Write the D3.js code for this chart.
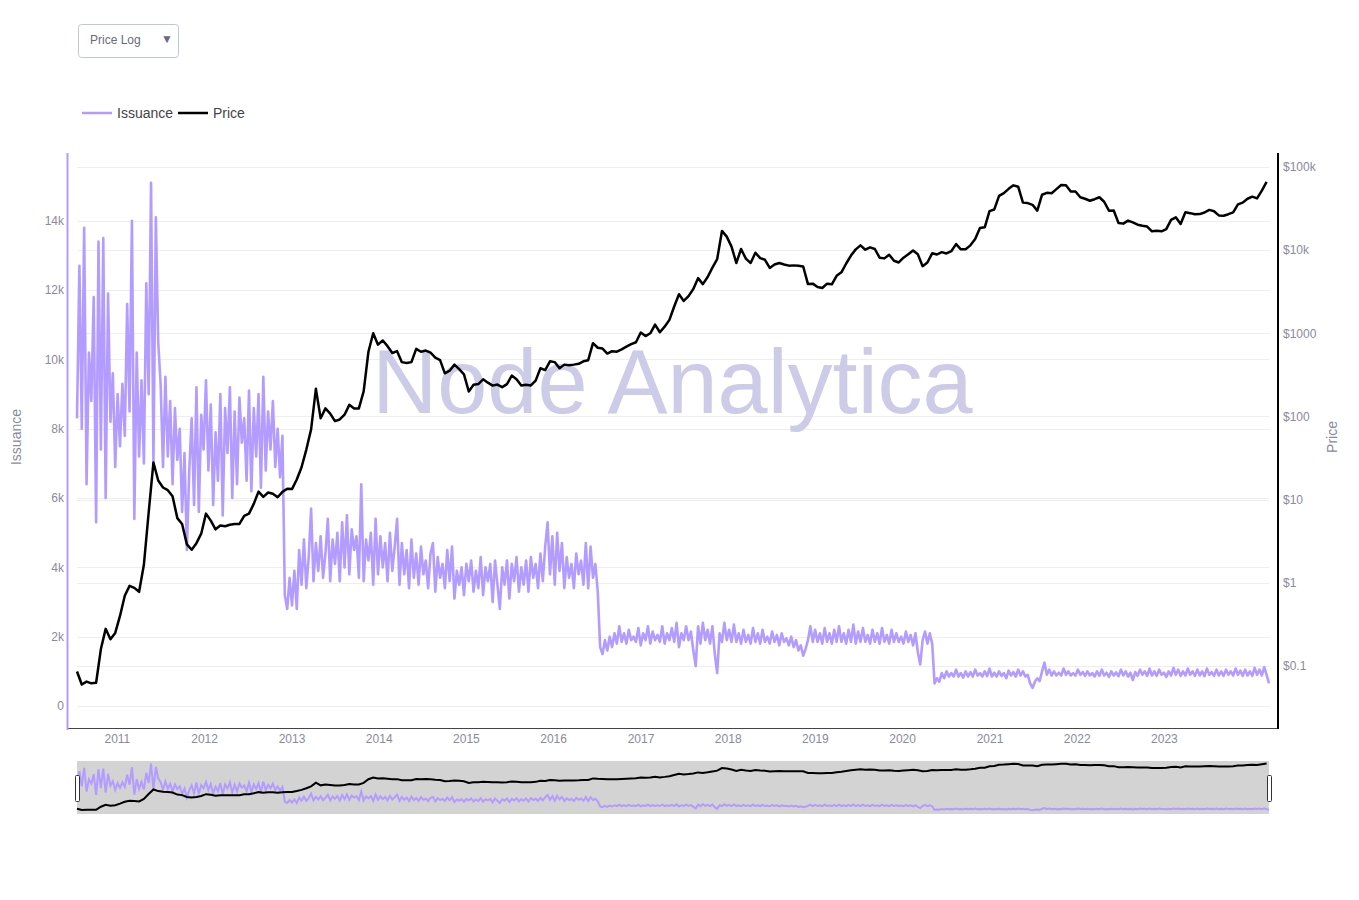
<!DOCTYPE html>
<html>
<head>
<meta charset="utf-8">
<script src="https://cdn.jsdelivr.net/npm/d3@7"></script>
<title>Issuance vs Price</title>
<style>
body { margin: 0; background: #fff; }
</style>
</head>
<body>
<script>

// daily BTC issuance, sampled every 10 days from 2010-07-18 (one array per halving epoch)
var startDate = "2010-07-18";
var issuanceStep = 10;
var priceStep = 20;

var issuanceEpoch1 = [
  8300, 12700, 8000, 13800, 6400, 10200, 8800, 11800, 5300, 13400,
  7400, 13500, 6000, 11900, 8200, 9600, 6900, 9000, 7500, 9300,
  7800, 11600, 8500, 14000, 5400, 10200, 7200, 9400, 7000, 12200,
  9000, 15100, 7000, 14100, 10500, 9300, 6900, 9500, 7200, 8800,
  6400, 8600, 7100, 8000, 5600, 7300, 4500, 6800, 8300, 5800,
  9200, 5600, 8400, 7400, 9400, 6800, 8700, 5800, 7900, 6500,
  9000, 5500, 8600, 7300, 9200, 6000, 8500, 6400, 8900, 7600,
  8300, 6500, 9100, 6200, 8600, 7200, 9000, 6300, 9500, 6800,
  8500, 7400, 8800, 6900, 8000, 6600, 7800
];
var issuanceEpoch2 = [
  3200, 2800, 3700, 2900, 3900, 2800, 4500, 3500, 4800, 3400,
  4300, 5700, 3600, 4700, 3900, 4900, 3700, 4400, 5400, 3600,
  4800, 4100, 5000, 3600, 5300, 4000, 5500, 3800, 5100, 4500,
  4900, 3700, 6400, 3600, 4800, 4200, 5000, 3500, 5400, 3800,
  4900, 4000, 4700, 3600, 5000, 3900, 4600, 5400, 3500, 4700,
  3800, 4500, 3400, 4800, 3700, 4400, 3500, 4600, 3800, 4200,
  3400, 4400, 4700, 3300, 4300, 3700, 4100, 3400, 4500, 3600,
  4600, 3100, 3900, 3500, 4000, 3200, 4100, 3600, 4200, 3300,
  3900, 3400, 4300, 3200, 4000, 3600, 4100, 3000, 4200, 3500,
  2800, 4000, 3500, 4200, 3100, 4100, 3600, 4300, 3300, 4000,
  3500, 4200, 3300, 4300, 3700, 4100, 3400, 4400, 3600, 4600,
  5300, 3800, 4900, 3500, 5000, 3900, 4700, 3400, 4300, 3700,
  4100, 3400, 4400, 3800, 4200, 3500, 4700, 3400, 4600, 3700,
  4100, 3300
];
var issuanceEpoch3 = [
  1700, 1500, 1900, 1600, 2000, 1700, 2100, 1800, 2300, 1850,
  2100, 1800, 2200, 1900, 2000, 1850, 2250, 1750, 2100, 1900,
  2300, 1800, 2150, 1900, 2050, 1850, 2300, 1800, 2100, 1900,
  2250, 1850, 2400, 1700, 2100, 1900, 2300, 1900, 2150, 1600,
  1150, 2300, 1800, 2400, 1900, 2200, 1800, 2300, 1500, 950,
  2100, 1850, 2400, 1900, 2200, 1850, 2350, 1850, 2100, 1800,
  2200, 1850, 2050, 1800, 2250, 1850, 2100, 1800, 2200, 1850,
  2000, 1800, 2150, 1850, 2050, 1750, 2100, 1850, 1950, 1750,
  2000, 1700, 1900, 1600, 1750, 1450, 1650, 1900, 2300, 1850,
  2200, 1850, 2100, 1800, 2250, 1850, 2100, 1800, 2200, 1850,
  2300, 1850, 2100, 1800, 2200, 1850, 2350, 1800, 2150, 1850,
  2250, 1850, 2050, 1800, 2200, 1850, 2100, 1800, 2250, 1850,
  2050, 1800, 2200, 1850, 2100, 1850, 2000, 1800, 2150, 1850,
  2050, 1750, 2100, 1550, 1200, 1900, 2150, 1800, 2100, 1800
];
var issuanceEpoch4 = [
  650, 800, 700, 950, 800, 1000, 850, 950, 850, 1050,
  850, 950, 820, 1000, 850, 980, 850, 1050, 880, 950,
  850, 1000, 860, 1080, 850, 960, 850, 1000, 870, 950,
  800, 1020, 880, 980, 850, 1050, 880, 1000, 850, 900,
  650, 520, 700, 800, 720, 1000, 1250, 900, 1050, 880,
  1000, 880, 960, 880, 1080, 900, 1000, 880, 950, 880,
  1050, 900, 980, 870, 1000, 880, 950, 850, 1000, 870,
  1050, 880, 960, 840, 1000, 880, 970, 860, 1050, 880,
  1000, 850, 960, 750, 980, 870, 1050, 900, 1000, 870,
  1080, 880, 1000, 870, 1050, 900, 960, 840, 1000, 880,
  1100, 900, 1050, 870, 1000, 880, 1080, 900, 1000, 870,
  1050, 880, 1000, 860, 1080, 900, 980, 870, 1050, 880,
  1000, 870, 1050, 900, 1000, 880, 1080, 900, 1020, 870,
  1050, 880, 1000, 870, 1100, 900, 1050, 880, 1120, 900,
  650
];

// BTC price in USD, every 20 days from the same start
var priceValues = [
  0.086, 0.06, 0.065, 0.062, 0.063, 0.16, 0.28, 0.21, 0.25, 0.40,
  0.70, 0.92, 0.87, 0.78, 1.65, 7.0, 28, 17, 14, 13,
  11, 6.0, 5.1, 2.9, 2.5, 3.0, 3.9, 6.8, 5.6, 4.4,
  4.9, 4.8, 5.0, 5.1, 5.1, 6.4, 6.8, 8.9, 12.5, 10.8,
  12.2, 11.8, 10.7, 12.4, 13.5, 13.4, 17.5, 24.5, 40, 70,
  215, 95, 125, 108, 88, 92, 105, 138, 125, 125,
  200, 600, 1000, 730, 820, 700, 580, 610, 450, 440,
  450, 650, 600, 620, 585, 510, 475, 330, 355, 420,
  370, 320, 200, 240, 245, 280, 255, 235, 242, 225,
  245, 310, 280, 235, 240, 236, 270, 380, 360, 460,
  450, 380, 420, 412, 420, 430, 460, 475, 760, 670,
  655, 570, 610, 600, 640, 690, 740, 780, 1020, 925,
  1000, 1270, 1030, 1200, 1450, 2100, 2950, 2450, 2800, 3400,
  4600, 3900, 4750, 6150, 7800, 17000, 14500, 11000, 7000, 10300,
  7900, 7000, 9300, 8000, 7650, 6100, 6700, 7000, 6700, 6500,
  6550, 6500, 6350, 3900, 3950, 3600, 3500, 3950, 3880, 4900,
  5400, 6900, 8600, 10200, 11400, 10100, 10800, 10300, 8100, 7950,
  8800, 7450, 7100, 8100, 8900, 9900, 8900, 6400, 7100, 9150,
  8850, 9450, 9100, 9700, 11800, 10200, 10250, 11400, 13550, 18400,
  18800, 29400, 30800, 44800, 48400, 54500, 60000, 57800, 37200, 36700,
  35000, 29800, 46300, 48800, 48300, 54000, 60600, 60300, 50600, 50700,
  43100, 41400, 39200, 40900, 43200, 38100, 29800, 29900, 21200, 20800,
  22600, 21500, 20200, 19600, 19200, 16800, 17100, 16800, 17900, 23100,
  24800, 20600, 28500, 27800, 26900, 27100, 28300, 30400, 29300, 26100,
  25900, 27000, 28400, 35400, 37200, 41400, 43900, 41800, 51900, 66000
];

var issuanceTicks = [0, 2000, 4000, 6000, 8000, 10000, 12000, 14000];
var issuanceTickLabels = ["0", "2k", "4k", "6k", "8k", "10k", "12k", "14k"];
var priceTicks = [0.1, 1, 10, 100, 1000, 10000, 100000];
var priceTickLabels = ["$0.1", "$1", "$10", "$100", "$1000", "$10k", "$100k"];
var yearTicks = [2011, 2012, 2013, 2014, 2015, 2016, 2017, 2018, 2019, 2020, 2021, 2022, 2023];

var issuanceColor = "#b39cff",
    priceColor = "#000",
    labelColor = "#8a8a9c",
    fontFamily = "Arial, 'Liberation Sans', sans-serif";

var width = 1359,
    height = 900;

var svg = d3.select("body")
  .append("svg")
  .attr("width", width)
  .attr("height", height)
  .style("font-family", fontFamily);

var t0 = d3.timeParse("%Y-%m-%d")(startDate);
var issuance = issuanceEpoch1.concat(issuanceEpoch2, issuanceEpoch3, issuanceEpoch4)
  .map(function(v, i) { return { date: d3.timeDay.offset(t0, i * issuanceStep), value: v }; });
var price = priceValues
  .map(function(v, i) { return { date: d3.timeDay.offset(t0, i * priceStep), value: v }; });

var plot = { left: 77, right: 1269, top: 155, bottom: 728 };

var x = d3.scaleTime()
  .domain(d3.extent(issuance, function(d) { return d.date; }))
  .range([plot.left, plot.right]);
var yIss = d3.scaleLinear().domain([-635, 15900]).range([plot.bottom, plot.top]);
var yPrice = d3.scaleLog().domain([0.018, 139000]).range([plot.bottom, plot.top]);

// grid
var grid = svg.append("g").attr("stroke", "#eeeeee").attr("stroke-width", 1);
grid.selectAll(".gl").data(issuanceTicks).enter().append("line")
  .attr("x1", plot.left).attr("x2", plot.right)
  .attr("y1", function(d) { return Math.round(yIss(d)) + 0.5; })
  .attr("y2", function(d) { return Math.round(yIss(d)) + 0.5; });
grid.selectAll(".gr").data(priceTicks).enter().append("line")
  .attr("x1", plot.left).attr("x2", plot.right)
  .attr("y1", function(d) { return Math.round(yPrice(d)) + 0.5; })
  .attr("y2", function(d) { return Math.round(yPrice(d)) + 0.5; });

// watermark
svg.append("text")
  .attr("x", 672.5)
  .attr("y", 413)
  .attr("text-anchor", "middle")
  .attr("font-size", 90)
  .attr("fill", "#cccbe8")
  .text("Node Analytica");

// series
var issLine = d3.line()
  .x(function(d) { return x(d.date); })
  .y(function(d) { return yIss(d.value); });
var priceLine = d3.line()
  .x(function(d) { return x(d.date); })
  .y(function(d) { return yPrice(d.value); });

svg.append("path")
  .datum(issuance)
  .attr("d", issLine)
  .attr("fill", "none")
  .attr("stroke", issuanceColor)
  .attr("stroke-width", 2.6)
  .attr("stroke-linejoin", "round");

svg.append("path")
  .datum(price)
  .attr("d", priceLine)
  .attr("fill", "none")
  .attr("stroke", priceColor)
  .attr("stroke-width", 2.5)
  .attr("stroke-linejoin", "round");

// axes
function styleAxis(g) {
  g.select(".domain").remove();
  g.attr("font-family", fontFamily).attr("font-size", 12);
  g.selectAll("text").attr("fill", labelColor);
}

svg.append("g")
  .attr("transform", "translate(67,0)")
  .call(d3.axisLeft(yIss).tickValues(issuanceTicks).tickSize(0).tickPadding(3)
    .tickFormat(function(d, i) { return issuanceTickLabels[i]; }))
  .call(styleAxis);

svg.append("g")
  .attr("transform", "translate(1278,0)")
  .call(d3.axisRight(yPrice).tickValues(priceTicks).tickSize(0).tickPadding(5)
    .tickFormat(function(d, i) { return priceTickLabels[i]; }))
  .call(styleAxis);

svg.append("g")
  .attr("transform", "translate(0," + plot.bottom + ")")
  .call(d3.axisBottom(x)
    .tickValues(yearTicks.map(function(y) { return new Date(y, 0, 1); }))
    .tickFormat(d3.timeFormat("%Y")).tickSize(0).tickPadding(6))
  .call(styleAxis);

// axis lines
svg.append("line").attr("x1", 67).attr("x2", 1278).attr("y1", 728.5).attr("y2", 728.5)
  .attr("stroke", "#444").attr("stroke-width", 1);
svg.append("line").attr("x1", 67.5).attr("x2", 67.5).attr("y1", 153).attr("y2", 730)
  .attr("stroke", issuanceColor).attr("stroke-width", 2);
svg.append("line").attr("x1", 1278).attr("x2", 1278).attr("y1", 153).attr("y2", 729)
  .attr("stroke", "#000").attr("stroke-width", 2);

// axis titles
svg.append("text")
  .attr("transform", "translate(21,437) rotate(-90)")
  .attr("text-anchor", "middle")
  .attr("font-size", 14)
  .attr("fill", labelColor)
  .text("Issuance");
svg.append("text")
  .attr("transform", "translate(1337,437) rotate(-90)")
  .attr("text-anchor", "middle")
  .attr("font-size", 14)
  .attr("fill", labelColor)
  .text("Price");

// legend
var legend = svg.append("g").attr("transform", "translate(82,113)");
var legendItems = [
  { name: "Issuance", color: issuanceColor, x: 0 },
  { name: "Price", color: priceColor, x: 96 }
];
legendItems.forEach(function(d) {
  legend.append("line").attr("x1", d.x).attr("x2", d.x + 30).attr("y1", 0).attr("y2", 0)
    .attr("stroke", d.color).attr("stroke-width", 2.5);
  legend.append("text").attr("x", d.x + 35).attr("y", 0).attr("dy", "0.35em")
    .attr("font-size", 14).attr("fill", "#444").text(d.name);
});

// dropdown
svg.append("rect")
  .attr("x", 78.5).attr("y", 24.5).attr("width", 100).attr("height", 33).attr("rx", 3)
  .attr("fill", "#fff").attr("stroke", "#bec8d9");
svg.append("text").attr("x", 90).attr("y", 40).attr("dy", "0.35em")
  .attr("font-size", 12).attr("fill", "#6a6a78").text("Price Log");
svg.append("text").attr("x", 167).attr("y", 39).attr("dy", "0.35em").attr("text-anchor", "middle")
  .attr("font-size", 12).attr("fill", "#6a6a78").text("\u25BC");

// range slider
var slider = { top: 761, bottom: 814 };
var sIss = yIss.copy().range([slider.bottom, slider.top]);
var sPrice = yPrice.copy().range([slider.bottom, slider.top]);

svg.append("rect")
  .attr("x", plot.left).attr("y", slider.top)
  .attr("width", plot.right - plot.left).attr("height", slider.bottom - slider.top)
  .attr("fill", "#d3d3d3");

svg.append("path")
  .datum(issuance)
  .attr("d", d3.line().x(function(d) { return x(d.date); }).y(function(d) { return sIss(d.value); }))
  .attr("fill", "none").attr("stroke", issuanceColor).attr("stroke-width", 2);
svg.append("path")
  .datum(price)
  .attr("d", d3.line().x(function(d) { return x(d.date); }).y(function(d) { return sPrice(d.value); }))
  .attr("fill", "none").attr("stroke", priceColor).attr("stroke-width", 2);

[plot.left - 2, plot.right - 2].forEach(function(hx) {
  svg.append("rect")
    .attr("x", hx + 0.5).attr("y", 775.5).attr("width", 4).attr("height", 26).attr("rx", 1)
    .attr("fill", "#fff").attr("stroke", "#333").attr("stroke-width", 1);
});

</script>
</body>
</html>
